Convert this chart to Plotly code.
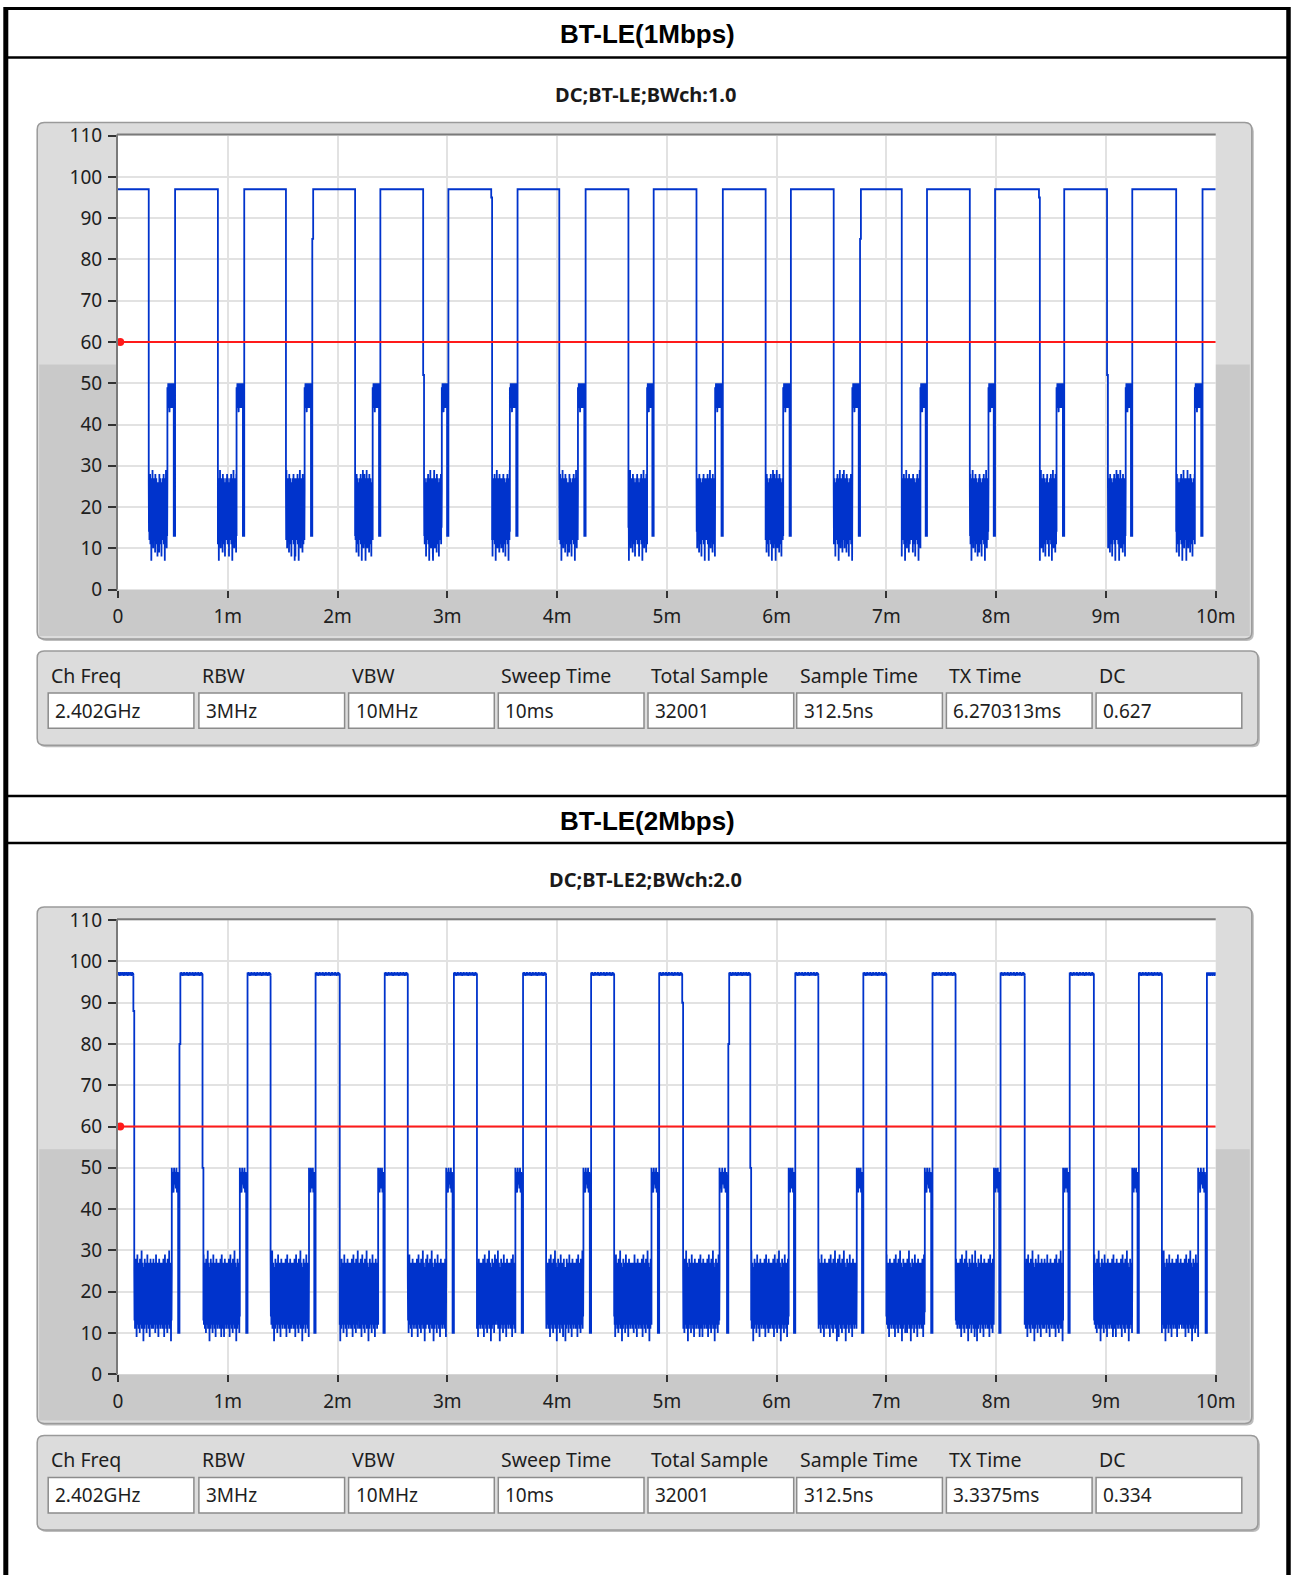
import plotly.graph_objects as go

W, H = 1293, 1575

# ---------------- data ----------------
TIME_TICK_VALS = [0, 1, 2, 3, 4, 5, 6, 7, 8, 9, 10]
TIME_TICK_TEXT = ["0", "1m", "2m", "3m", "4m", "5m", "6m", "7m", "8m", "9m", "10m"]
LEVEL_TICK_VALS = [0, 10, 20, 30, 40, 50, 60, 70, 80, 90, 100, 110]
THRESHOLD = 60

PANEL_TITLES = ["BT-LE(1Mbps)", "BT-LE(2Mbps)"]
PLOT_TITLES = ["DC;BT-LE;BWch:1.0", "DC;BT-LE2;BWch:2.0"]

TABLE_LABELS = ["Ch Freq", "RBW", "VBW", "Sweep Time", "Total Sample", "Sample Time", "TX Time", "DC"]
TABLE_VALUES_1M = ["2.402GHz", "3MHz", "10MHz", "10ms", "32001", "312.5ns", "6.270313ms", "0.627"]
TABLE_VALUES_2M = ["2.402GHz", "3MHz", "10MHz", "10ms", "32001", "312.5ns", "3.3375ms", "0.334"]

# BT-LE 1 Mbps trace (times in ms, levels in dB)
HIGH_1M = 97
FALL_1M = [0.28, 0.91, 1.53, 2.16, 2.78, 3.40, 4.02, 4.65, 5.27, 5.90, 6.52, 7.14, 7.76, 8.39, 9.01, 9.64]
STEP_1M = [0.45, 1.08, 1.70, 2.32, 2.95, 3.57, 4.19, 4.82, 5.44, 6.06, 6.69, 7.31, 7.93, 8.55, 9.18, 9.81]
RISE_1M = [0.52, 1.15, 1.77, 2.39, 3.01, 3.64, 4.26, 4.88, 5.51, 6.13, 6.76, 7.37, 7.99, 8.62, 9.24, 9.88]
FALL_SHOULDER_1M = [None, None, None, None, 52, 95, None, None, None, None, None, None, None, 95, 52, None]
RISE_SHOULDER_1M = [None, None, 85, None, None, None, None, None, None, None, 85, None, None, None, None, None]
RIPPLE_1M = [97]
NOISE_1M = [26, 14, 27, 12, 25, 13, 28, 11, 26, 15, 24, 7, 27, 13, 25, 12, 29, 14, 26, 10,
            25, 13, 27, 12, 24, 14, 26, 9, 28, 13, 25, 11, 27, 14, 26, 12, 24, 8, 26, 13]
PLATEAU_1M = [49, 44, 50, 45, 49, 43, 50, 46, 49, 44, 50, 47, 49, 44, 50, 45]
DIP_1M = 13

# BT-LE 2 Mbps trace
HIGH_2M = 97
FALL_2M = [0.14, 0.77, 1.39, 2.02, 2.64, 3.27, 3.90, 4.52, 5.14, 5.76, 6.38, 7.00, 7.63, 8.26, 8.89, 9.51]
STEP_2M = [0.49, 1.11, 1.74, 2.37, 2.99, 3.62, 4.24, 4.86, 5.48, 6.11, 6.73, 7.35, 7.98, 8.61, 9.24, 9.84]
RISE_2M = [0.56, 1.18, 1.80, 2.43, 3.06, 3.69, 4.31, 4.93, 5.56, 6.17, 6.79, 7.42, 8.04, 8.67, 9.30, 9.92]
FALL_SHOULDER_2M = [88, 50, None, None, None, None, None, None, 90, 50, None, None, None, None, None, None]
RISE_SHOULDER_2M = [80, None, None, None, None, None, None, None, 80, None, None, None, None, None, None, None]
RIPPLE_2M = [97.3, 96.6, 97.4, 96.7, 97.2, 96.5, 97.3, 96.8, 97.4, 96.6, 97.2, 96.7,
             97.3, 96.6, 97.4, 96.7, 97.2, 96.5, 97.3, 96.8, 97.4, 96.6, 97.2, 96.7,
             97.3, 96.6, 97.4, 96.7, 97.2, 96.5, 97.3, 96.8, 97.4, 96.6, 97.2, 96.7,
             97.3, 96.6, 97.4, 96.7, 97.2, 96.5, 97.3, 96.8, 97.4, 96.6, 97.2, 96.7]
NOISE_2M = [25, 13, 27, 11, 24, 14, 28, 12, 26, 9, 25, 13, 29, 12, 24, 15, 26, 11, 27, 13,
            25, 10, 28, 14, 24, 12, 26, 13, 30, 11, 25, 14, 27, 12, 24, 8, 26, 13, 25, 11,
            28, 14, 26, 12, 24, 13, 27, 10, 25, 14, 29, 12, 26, 13, 24, 11, 27, 14, 25, 9,
            26, 13, 28, 12, 24, 14, 25, 11, 27, 13, 26, 12]
PLATEAU_2M = [50, 45, 49, 44, 50, 46, 49, 45, 50, 44, 49, 46]
DIP_2M = 10

# ---------------- layout geometry (pixels) ----------------
PANEL_DY = 784.6
PLOT_X0, PLOT_X1 = 118.0, 1215.7
PLOT_Y0, PLOT_Y1 = 135.6, 589.6
FRAME = (37.2, 122.5, 1251.8, 638.9)
DARK_Y = 364.6
TABLE = (37.2, 650.9, 1257.9, 745.3)
BOX_X = [48.2, 198.9, 348.6, 498.3, 648.0, 796.7, 946.4, 1096.1]
BOX_W = 145.7
BOX_Y0, BOX_Y1 = 693.0, 728.3
LABEL_Y = 675.0

BLUE = "#0033cc"
FONT = "Noto Sans"


def fx(x):
    return x / W


def fy(y):
    return 1 - y / H


def rounded(x0, y0, x1, y1, r):
    def P(x, y):
        return f"{fx(x):.6f},{fy(y):.6f}"
    return (f"M {P(x0 + r, y0)} L {P(x1 - r, y0)} Q {P(x1, y0)} {P(x1, y0 + r)} "
            f"L {P(x1, y1 - r)} Q {P(x1, y1)} {P(x1 - r, y1)} L {P(x0 + r, y1)} "
            f"Q {P(x0, y1)} {P(x0, y1 - r)} L {P(x0, y0 + r)} Q {P(x0, y0)} {P(x0 + r, y0)} Z")


def add_high(xs, ys, a, b, ripple):
    m = len(ripple)
    if m == 1:
        xs += [a, b]; ys += [ripple[0], ripple[0]]
        return
    for i, v in enumerate(ripple):
        xs.append(a + (b - a) * i / (m - 1)); ys.append(v)


def build_trace(fall, step, rise, fsh, rsh, noise, plateau, dip, high, ripple, shift):
    xs, ys = [], []
    add_high(xs, ys, 0.0, fall[0], ripple)
    half = len(noise) // 2 + 3
    for k in range(len(fall)):
        f, s, r = fall[k], step[k], rise[k]
        xs.append(f); ys.append(high)
        nstart = f
        if fsh[k] is not None:
            xs += [f, f + 0.008]; ys += [fsh[k], fsh[k]]
            nstart = f + 0.008
        rot = (k * shift) % len(noise)
        rot2 = (rot + half) % len(noise)
        seq = noise[rot:] + noise[:rot] + noise[rot2:] + noise[:rot2]
        n = len(seq)
        for i, v in enumerate(seq):
            xs.append(nstart + (s - nstart) * i / (n - 1)); ys.append(v)
        pe = r - 0.012
        m = len(plateau)
        for i, v in enumerate(plateau):
            xs.append(s + (pe - s) * i / (m - 1)); ys.append(v)
        xs += [pe, r]; ys += [dip, dip]
        hs = r
        if rsh[k] is not None:
            xs += [r, r + 0.008]; ys += [rsh[k], rsh[k]]
            hs = r + 0.008
        nxt = fall[k + 1] if k + 1 < len(fall) else 10.0
        add_high(xs, ys, hs, nxt, ripple)
    return xs, ys


fig = go.Figure()
shapes = []
annotations = []

traces = [
    build_trace(FALL_1M, STEP_1M, RISE_1M, FALL_SHOULDER_1M, RISE_SHOULDER_1M,
                NOISE_1M, PLATEAU_1M, DIP_1M, HIGH_1M, RIPPLE_1M, 7),
    build_trace(FALL_2M, STEP_2M, RISE_2M, FALL_SHOULDER_2M, RISE_SHOULDER_2M,
                NOISE_2M, PLATEAU_2M, DIP_2M, HIGH_2M, RIPPLE_2M, 11),
]
table_values = [TABLE_VALUES_1M, TABLE_VALUES_2M]

# outer black borders
shapes.append(dict(type="line", xref="paper", yref="paper", x0=fx(5.8), x1=fx(5.8), y0=fy(7), y1=fy(1575),
                   line=dict(color="black", width=5)))
shapes.append(dict(type="line", xref="paper", yref="paper", x0=fx(1288.5), x1=fx(1288.5), y0=fy(7), y1=fy(1575),
                   line=dict(color="black", width=4.5)))
for yy, wd in [(8.5, 3), (57.5, 2.5), (796.0, 2.5), (843.0, 2.5)]:
    shapes.append(dict(type="line", xref="paper", yref="paper", x0=fx(4), x1=fx(1290), y0=fy(yy), y1=fy(yy),
                       line=dict(color="black", width=wd)))

for p in range(2):
    dy = p * PANEL_DY
    xa = "x" if p == 0 else "x2"
    ya = "y" if p == 0 else "y2"

    # titles
    annotations.append(dict(text=f"<b>{PANEL_TITLES[p]}</b>", x=fx(647), y=fy(34.2 + (820.7 - 34.2) * p),
                            xref="paper", yref="paper", showarrow=False, xanchor="center", yanchor="middle",
                            font=dict(family="Liberation Sans", size=26, color="black")))
    annotations.append(dict(text=f"<b>{PLOT_TITLES[p]}</b>", x=fx(645.5), y=fy(94.4 + dy),
                            xref="paper", yref="paper", showarrow=False, xanchor="center", yanchor="middle",
                            font=dict(family=FONT, size=20, color="#1a1a1a")))

    # graph frame
    fx0, fy0, fx1, fy1 = FRAME
    shapes.append(dict(type="path", xref="paper", yref="paper", path=rounded(fx0 + 2, fy0 + 2 + dy, fx1 + 2, fy1 + 2 + dy, 7),
                       fillcolor="#bdbdbd", line=dict(width=0), layer="below"))
    shapes.append(dict(type="path", xref="paper", yref="paper", path=rounded(fx0, fy0 + dy, fx1, fy1 + dy, 7),
                       fillcolor="#dcdcdc", line=dict(color="#9a9a9a", width=1.5), layer="below"))
    shapes.append(dict(type="rect", xref="paper", yref="paper", x0=fx(fx0 + 2), x1=fx(fx1 - 2),
                       y0=fy(DARK_Y + dy), y1=fy(fy1 - 3 + dy),
                       fillcolor="#c9c9c9", line=dict(width=0), layer="below"))
    shapes.append(dict(type="rect", xref="paper", yref="paper", x0=fx(PLOT_X0), x1=fx(PLOT_X1),
                       y0=fy(PLOT_Y1 + dy), y1=fy(PLOT_Y0 + dy),
                       fillcolor="white", line=dict(width=0), layer="below"))
    # plot inset border (top & left)
    shapes.append(dict(type="line", xref="paper", yref="paper", x0=fx(PLOT_X0 - 1), x1=fx(PLOT_X1),
                       y0=fy(PLOT_Y0 - 1 + dy), y1=fy(PLOT_Y0 - 1 + dy), line=dict(color="#7a7a7a", width=2)))
    shapes.append(dict(type="line", xref="paper", yref="paper", x0=fx(PLOT_X0 - 1), x1=fx(PLOT_X0 - 1),
                       y0=fy(PLOT_Y0 - 1 + dy), y1=fy(PLOT_Y1 + dy), line=dict(color="#7a7a7a", width=2)))

    # table frame
    tx0, ty0, tx1, ty1 = TABLE
    shapes.append(dict(type="path", xref="paper", yref="paper", path=rounded(tx0 + 2, ty0 + 2 + dy, tx1 + 2, ty1 + 2 + dy, 7),
                       fillcolor="#bdbdbd", line=dict(width=0), layer="below"))
    shapes.append(dict(type="path", xref="paper", yref="paper", path=rounded(tx0, ty0 + dy, tx1, ty1 + dy, 7),
                       fillcolor="#dcdcdc", line=dict(color="#9a9a9a", width=1.5), layer="below"))
    for i, bx in enumerate(BOX_X):
        shapes.append(dict(type="rect", xref="paper", yref="paper", x0=fx(bx), x1=fx(bx + BOX_W),
                           y0=fy(BOX_Y1 + dy), y1=fy(BOX_Y0 + dy),
                           fillcolor="white", line=dict(color="#8c8c8c", width=1.5), layer="below"))
        annotations.append(dict(text=TABLE_LABELS[i], x=fx(bx + 1), y=fy(LABEL_Y + dy), xref="paper", yref="paper",
                                showarrow=False, xanchor="left", yanchor="middle",
                                font=dict(family=FONT, size=19.5, color="#1e1e1e")))
        annotations.append(dict(text=table_values[p][i], x=fx(bx + 5), y=fy((BOX_Y0 + BOX_Y1) / 2 + dy),
                                xref="paper", yref="paper", showarrow=False, xanchor="left", yanchor="middle",
                                font=dict(family=FONT, size=19, color="#1e1e1e")))

    xs, ys = traces[p]
    fig.add_trace(go.Scatter(x=xs, y=ys, mode="lines", xaxis=xa, yaxis=ya,
                             line=dict(color=BLUE, width=1.8, simplify=False), hoverinfo="skip", showlegend=False))
    fig.add_trace(go.Scatter(x=[0, 10], y=[THRESHOLD, THRESHOLD], mode="lines", xaxis=xa, yaxis=ya,
                             line=dict(color="#ff1a1a", width=2), hoverinfo="skip", showlegend=False))
    fig.add_trace(go.Scatter(x=[0.02], y=[THRESHOLD], mode="markers", xaxis=xa, yaxis=ya, cliponaxis=False,
                             marker=dict(color="#ff1a1a", size=8), hoverinfo="skip", showlegend=False))

axis_common_x = dict(range=[0, 10], tickvals=TIME_TICK_VALS, ticktext=TIME_TICK_TEXT, showgrid=True,
                     gridcolor="#e2e2e2", gridwidth=2, zeroline=False, showline=False, ticks="outside",
                     ticklen=7, tickwidth=1.5, tickcolor="#333333", ticklabelstandoff=3, automargin=False,
                     tickfont=dict(family=FONT, size=19, color="#202020"), fixedrange=True)
axis_common_y = dict(range=[0, 110], tickvals=LEVEL_TICK_VALS, showgrid=True, gridcolor="#e2e2e2", gridwidth=2,
                     zeroline=False, showline=False, ticks="outside", ticklen=9, tickwidth=1.5,
                     tickcolor="#333333", ticklabelstandoff=2, automargin=False,
                     tickfont=dict(family=FONT, size=19, color="#202020"), fixedrange=True)

fig.update_layout(
    width=W, height=H, margin=dict(l=0, r=0, t=0, b=0, autoexpand=False),
    paper_bgcolor="white", plot_bgcolor="rgba(0,0,0,0)",
    showlegend=False, shapes=shapes, annotations=annotations,
    xaxis=dict(domain=[fx(PLOT_X0), fx(PLOT_X1)], anchor="y", **axis_common_x),
    yaxis=dict(domain=[fy(PLOT_Y1), fy(PLOT_Y0)], anchor="x", **axis_common_y),
    xaxis2=dict(domain=[fx(PLOT_X0), fx(PLOT_X1)], anchor="y2", **axis_common_x),
    yaxis2=dict(domain=[fy(PLOT_Y1 + PANEL_DY), fy(PLOT_Y0 + PANEL_DY)], anchor="x2", **axis_common_y),
)

fig.write_html("out.html", config={"displayModeBar": False},
               post_script="document.body.style.margin='0';document.body.style.overflow='hidden';")
